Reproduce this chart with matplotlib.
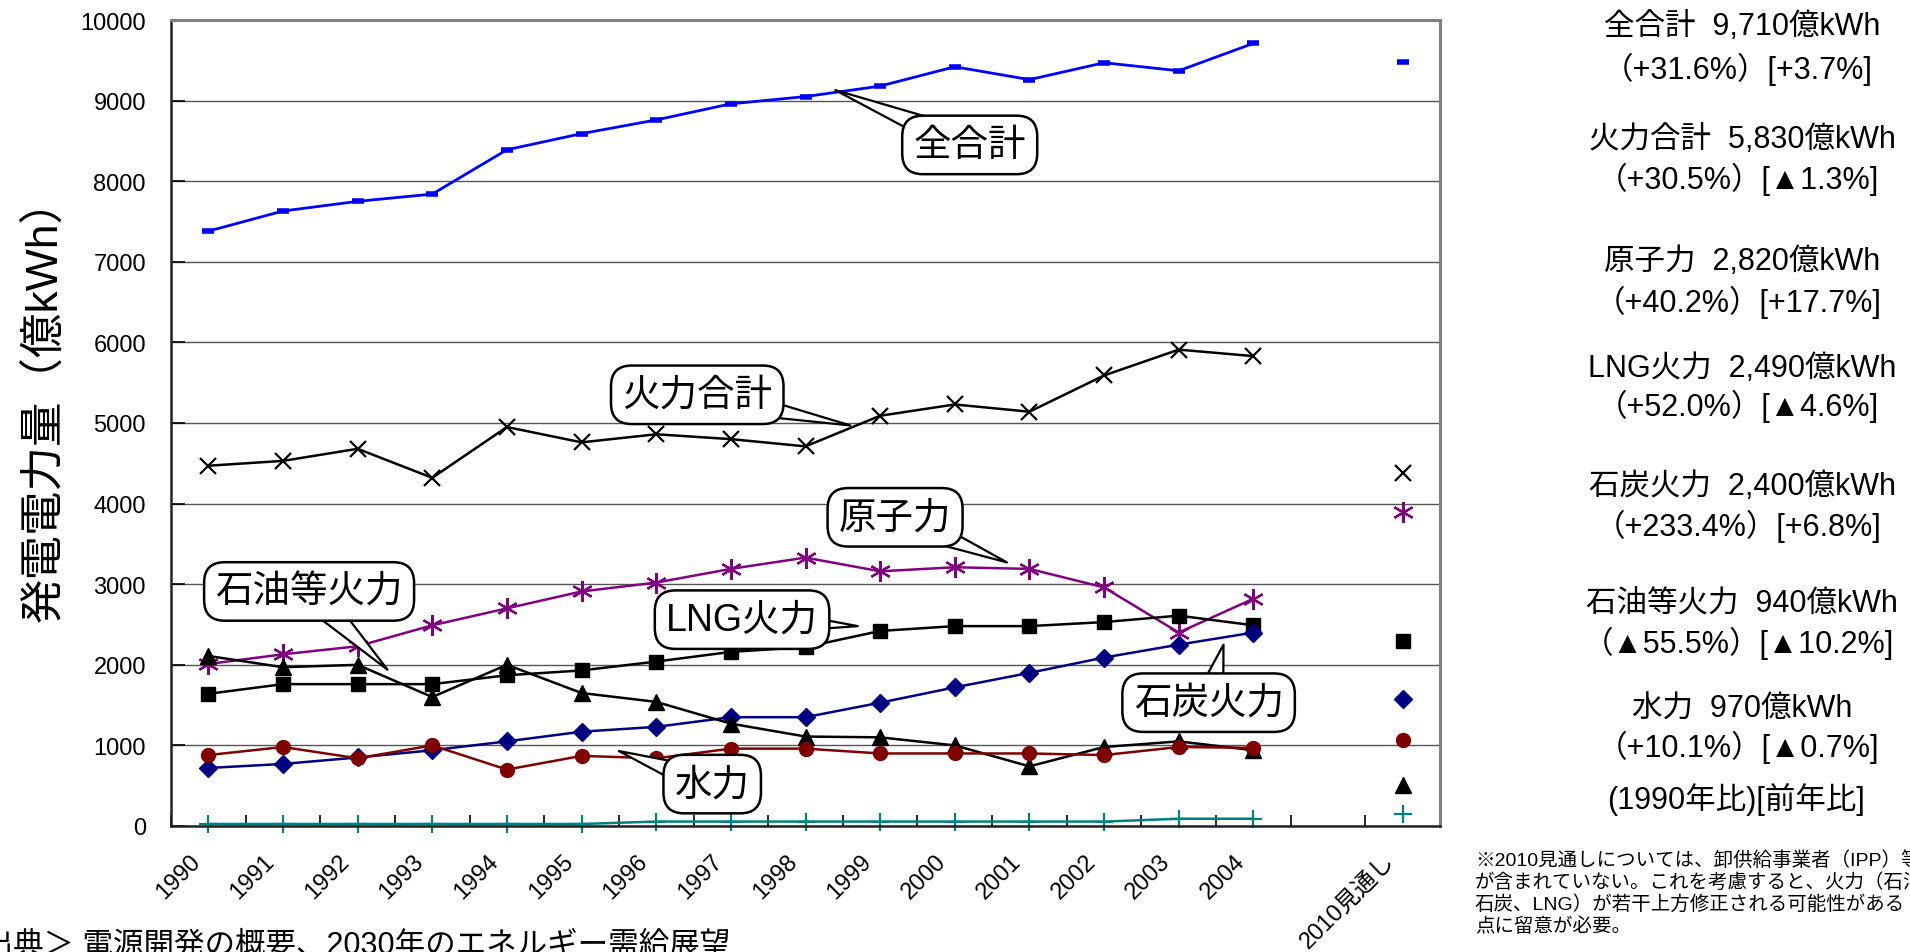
import numpy as np
import matplotlib
matplotlib.use("Agg")
import matplotlib.pyplot as plt
from matplotlib.transforms import ScaledTranslation

plt.rcParams['font.family'] = ['Liberation Sans', 'Noto Sans CJK JP', 'DejaVu Sans']

nan = np.nan

# 年度（空欄1つを挟んで2010見通し）
years = ['1990', '1991', '1992', '1993', '1994', '1995', '1996', '1997',
         '1998', '1999', '2000', '2001', '2002', '2003', '2004', '', '2010見通し']

# 発電電力量（億kWh）
total   = [7380, 7630, 7750, 7840, 8390, 8590, 8760, 8960, 9050, 9180, 9420, 9260, 9470, 9370, 9710, nan, 9480]
thermal = [4470, 4530, 4680, 4320, 4950, 4760, 4860, 4800, 4710, 5090, 5230, 5140, 5590, 5910, 5830, nan, 4380]
nuclear = [2010, 2130, 2230, 2490, 2700, 2910, 3020, 3190, 3330, 3160, 3210, 3190, 2960, 2400, 2820, nan, 3890]
lng     = [1640, 1760, 1760, 1760, 1870, 1930, 2040, 2160, 2220, 2420, 2480, 2480, 2530, 2610, 2490, nan, 2290]
coal    = [720, 770, 850, 940, 1050, 1170, 1230, 1350, 1350, 1530, 1720, 1900, 2090, 2250, 2400, nan, 1580]
oil     = [2110, 1970, 2000, 1600, 2000, 1650, 1540, 1270, 1110, 1100, 1000, 740, 980, 1050, 940, nan, 510]
hydro   = [880, 980, 840, 1000, 700, 870, 840, 960, 960, 900, 900, 900, 880, 980, 970, nan, 1070]
other   = [25, 25, 25, 25, 25, 25, 55, 55, 55, 55, 55, 55, 55, 90, 90, nan, 150]

# 右側の2004年実績
summary_names = ['全合計', '火力合計', '原子力', 'LNG火力', '石炭火力', '石油等火力', '水力']
summary_values = ['9,710', '5,830', '2,820', '2,490', '2,400', '940', '970']
summary_rates = ['（+31.6%）[+3.7%]', '（+30.5%）[▲1.3%]', '（+40.2%）[+17.7%]',
                 '（+52.0%）[▲4.6%]', '（+233.4%）[+6.8%]', '（▲55.5%）[▲10.2%]',
                 '（+10.1%）[▲0.7%]']

note_lines = ['※2010見通しについては、卸供給事業者（IPP）等',
              'が含まれていない。これを考慮すると、火力（石油',
              '石炭、LNG）が若干上方修正される可能性がある',
              '点に留意が必要。']

W, H = 1910, 953
fig = plt.figure(figsize=(W / 100, H / 100), dpi=100)
ax = fig.add_axes([171 / W, 1 - 827 / H, (1440 - 171) / W, (827 - 21) / H])

x = np.arange(len(years))

ax.plot(x, total, color='#0000ff', lw=2, marker='_', ms=9, mew=4, clip_on=False)
ax.plot(x, thermal, color='black', lw=1.8, marker='x', ms=12, mew=1.6, clip_on=False)
ax.plot(x, nuclear, color='#800080', lw=1.8, marker=(6, 2, 0), ms=15, mew=1.6, clip_on=False)
ax.plot(x, lng, color='black', lw=1.8, marker='s', ms=10, clip_on=False)
ax.plot(x, coal, color='#000080', lw=1.8, marker='D', ms=9, clip_on=False)
ax.plot(x, oil, color='black', lw=1.8, marker='^', ms=11, clip_on=False)
ax.plot(x, hydro, color='#800000', lw=1.8, marker='o', ms=10, clip_on=False)
ax.plot(x, other, color='#008080', lw=1.8, marker='+', ms=13, mew=1.6, clip_on=False)

ax.set_xlim(-0.5, len(years) - 0.5)
ax.set_ylim(0, 10000)
ax.set_yticks(np.arange(0, 10001, 1000))
ax.yaxis.grid(True, color='#555555', lw=1)
ax.set_axisbelow(True)

ax.set_xticks(x)
ax.set_xticklabels(years, rotation=45, ha='right', rotation_mode='anchor')
ax.set_xticks(np.arange(-0.5, len(years), 1), minor=True)
ax.tick_params(axis='x', which='major', length=0, pad=17, labelsize=17)
ax.tick_params(axis='x', which='minor', direction='in', length=8, width=1.2)
ax.tick_params(axis='y', direction='in', length=10, width=1.2, pad=18, labelsize=17)
shift = ScaledTranslation(-14 / 72, 0, fig.dpi_scale_trans)
for lab in ax.get_xticklabels():
    lab.set_transform(lab.get_transform() + shift)

for side in ['left', 'bottom']:
    ax.spines[side].set_color('#222222')
    ax.spines[side].set_linewidth(1.8)
for side in ['top', 'right']:
    ax.spines[side].set_color('#808080')
    ax.spines[side].set_linewidth(2.2)

fig.text(44 / W, 1 - 400 / H, '発電電力量（億kWh）', rotation=90, fontsize=32,
         ha='center', va='center')

# 吹き出し
callouts = [
    ('全合計', (8.4, 9130), (10.2, 8450)),
    ('火力合計', (8.6, 4970), (6.55, 5350)),
    ('原子力', (10.7, 3270), (9.2, 3830)),
    ('石油等火力', (2.4, 1940), (1.35, 2910)),
    ('LNG火力', (8.7, 2480), (7.15, 2560)),
    ('石炭火力', (13.6, 2250), (13.4, 1530)),
    ('水力', (5.5, 930), (6.75, 520)),
]
for label, tip, pos in callouts:
    ax.annotate(label, xy=tip, xytext=pos, textcoords='data', fontsize=27,
                ha='center', va='center', zorder=5,
                bbox=dict(boxstyle='round,pad=0.3,rounding_size=0.55',
                          fc='white', ec='black', lw=1.8),
                arrowprops=dict(arrowstyle='wedge,tail_width=0.8,shrink_factor=0.5',
                                fc='white', ec='black', lw=1.6,
                                patchA=None, shrinkA=0, shrinkB=0))

# 右側の数値一覧
line_y = [27, 69, 140, 179, 262, 302, 369, 406, 487, 526, 605, 643, 710, 747]
for i, name in enumerate(summary_names):
    fig.text(1742 / W, 1 - line_y[2 * i] / H, f'{name}  {summary_values[i]}億kWh',
             fontsize=22, ha='center', va='center')
    fig.text(1738 / W, 1 - line_y[2 * i + 1] / H, summary_rates[i],
             fontsize=22, ha='center', va='center')
fig.text(1736 / W, 1 - 800 / H, '(1990年比)[前年比]', fontsize=22,
         ha='center', va='center')

for i, line in enumerate(note_lines):
    fig.text(1475 / W, 1 - (861 + 22 * i) / H, line, fontsize=14,
             ha='left', va='center')

fig.text(-48 / W, 1 - 931 / H, '＜出典＞ 電源開発の概要、2030年のエネルギー需給展望',
         fontsize=22, ha='left', va='top')

fig.savefig('out.png', dpi=100, facecolor='white')
